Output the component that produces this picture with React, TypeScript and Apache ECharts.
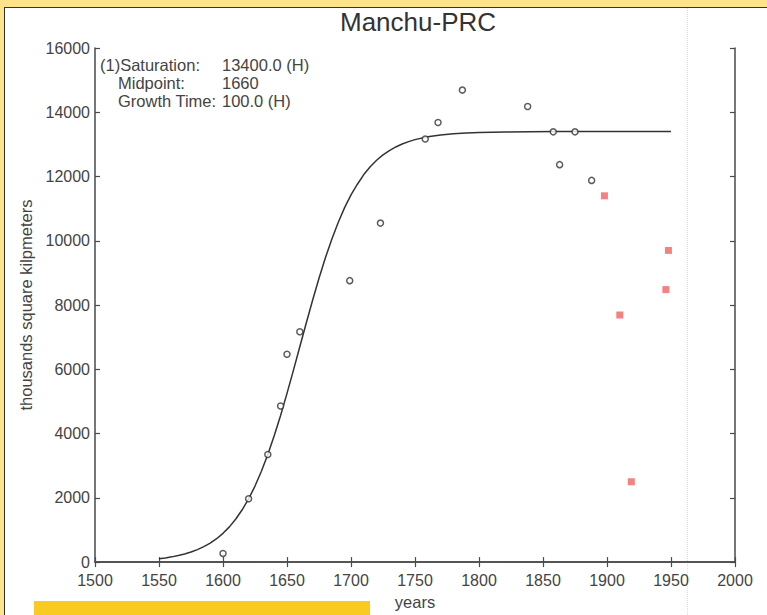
import React, { useEffect, useRef } from "react";
import * as echarts from "echarts";

const xTicks = [1500, 2000, 50];
const yTicks = [0, 16000, 2000];

const curveYears = [1550, 1555, 1560, 1565, 1570, 1575, 1580, 1585, 1590, 1595, 1600, 1605, 1610, 1615, 1620, 1625, 1630, 1635, 1640, 1645, 1650, 1655, 1660, 1665, 1670, 1675, 1680, 1685, 1690, 1695, 1700, 1705, 1710, 1715, 1720, 1725, 1730, 1735, 1740, 1745, 1750, 1760, 1770, 1780, 1790, 1800, 1820, 1840, 1860, 1880, 1900, 1920, 1950];
const curveValues = [105, 131, 163, 203, 252, 313, 388, 480, 591, 728, 895, 1097, 1340, 1629, 1970, 2367, 2829, 3349, 3930, 4565, 5251, 5966, 6700, 7434, 8149, 8835, 9470, 10051, 10571, 11033, 11429, 11760, 12060, 12303, 12505, 12672, 12809, 12920, 13012, 13087, 13148, 13237, 13294, 13332, 13356, 13372, 13388, 13395, 13398, 13399, 13400, 13400, 13400];

const circleYears = [1600, 1620, 1635, 1645, 1650, 1660, 1699, 1723, 1758, 1768, 1787, 1838, 1858, 1863, 1875, 1888];
const circleValues = [270, 1970, 3350, 4860, 6470, 7170, 8760, 10550, 13170, 13680, 14690, 14180, 13390, 12370, 13390, 11880];

const squareYears = [1898, 1910, 1919, 1946, 1948];
const squareValues = [11400, 7690, 2500, 8480, 9700];

const titleText = "Manchu-PRC";
const xName = "years";
const yName = "thousands square kilpmeters";
const noteLabels = ["(1)Saturation:", "Midpoint:", "Growth Time:"];
const noteValues = ["13400.0 (H)", "1660", "100.0 (H)"];

const FONT = "'Liberation Sans', Arial, Helvetica, sans-serif";
const AXIS = "#4a4a4a";
const TXT = "#444";

export default function App() {
  const ref = useRef<HTMLDivElement>(null);

  useEffect(() => {
    document.body.style.margin = "0";
    if (!ref.current) return;
    const chart = echarts.init(ref.current, undefined, { renderer: "svg" });

    const axisCommon = {
      type: "value" as const,
      axisLine: { show: true, lineStyle: { color: AXIS, width: 1.5 } },
      axisTick: { show: true, inside: true, length: 5, lineStyle: { color: AXIS, width: 1.2 } },
      splitLine: { show: false },
    };

    const noteGraphics: any[] = [];
    const noteX = [100, 118, 118];
    noteLabels.forEach((t, i) => {
      noteGraphics.push({
        type: "text",
        left: noteX[i],
        top: 56 + i * 18,
        style: { text: t, font: `16.5px ${FONT}`, fill: TXT },
      });
      noteGraphics.push({
        type: "text",
        left: 222,
        top: 56 + i * 18,
        style: { text: noteValues[i], font: `16.5px ${FONT}`, fill: TXT },
      });
    });

    const plain = (v: number) => String(v);

    chart.setOption({
      animation: false,
      backgroundColor: "transparent",
      textStyle: { fontFamily: FONT },
      title: {
        text: titleText,
        left: 413,
        textAlign: "center",
        top: 4,
        textStyle: { fontSize: 26, fontWeight: "normal", color: "#333", fontFamily: FONT },
      },
      grid: { left: 95, top: 48, right: 32, bottom: 47 },
      xAxis: [
        {
          ...axisCommon,
          min: xTicks[0],
          max: xTicks[1],
          interval: xTicks[2],
          position: "bottom",
          axisLabel: { color: TXT, fontSize: 16, margin: 10, fontFamily: FONT, formatter: plain },
          name: xName,
          nameLocation: "middle",
          nameGap: 30,
          nameTextStyle: { color: TXT, fontSize: 16.5, fontFamily: FONT },
        },
        {
          ...axisCommon,
          min: xTicks[0],
          max: xTicks[1],
          interval: xTicks[2],
          position: "top",
          axisLabel: { show: false },
        },
      ],
      yAxis: [
        {
          ...axisCommon,
          min: yTicks[0],
          max: yTicks[1],
          interval: yTicks[2],
          position: "left",
          axisLabel: { color: TXT, fontSize: 16, margin: 5, fontFamily: FONT, formatter: plain },
          name: yName,
          nameLocation: "middle",
          nameGap: 54,
          nameTextStyle: { color: TXT, fontSize: 16.5, fontFamily: FONT },
        },
        {
          ...axisCommon,
          min: yTicks[0],
          max: yTicks[1],
          interval: yTicks[2],
          position: "right",
          axisLabel: { show: false },
        },
      ],
      graphic: noteGraphics,
      series: [
        {
          type: "line",
          data: curveYears.map((y, i) => [y, curveValues[i]]),
          showSymbol: false,
          smooth: false,
          lineStyle: { color: "#333", width: 1.5 },
          z: 2,
        },
        {
          type: "scatter",
          data: circleYears.map((y, i) => [y, circleValues[i]]),
          symbol: "circle",
          symbolSize: 6,
          itemStyle: { color: "#fff", borderColor: "#333", borderWidth: 1.5 },
          z: 3,
        },
        {
          type: "scatter",
          data: squareYears.map((y, i) => [y, squareValues[i]]),
          symbol: "rect",
          symbolSize: 7,
          itemStyle: { color: "#f36b6b", opacity: 0.85 },
          z: 3,
        },
      ],
    });

    return () => chart.dispose();
  }, []);

  return (
    <div style={{ position: "relative", width: 767, height: 615, background: "#fde48a", overflow: "hidden", fontFamily: FONT }}>
      <div
        style={{
          position: "absolute",
          left: 4,
          top: 7,
          width: 800,
          height: 700,
          background: "#fff",
          borderLeft: "1.5px solid #333",
          borderTop: "1.5px solid #333",
        }}
      />
      <div
        style={{
          position: "absolute",
          left: 687,
          top: 8,
          width: 0,
          height: 607,
          borderLeft: "1px dotted #ecd6d6",
        }}
      />
      <div
        style={{
          position: "absolute",
          left: 34,
          top: 601,
          width: 336,
          height: 14,
          background: "#f9ca22",
        }}
      />
      <div ref={ref} style={{ position: "absolute", left: 0, top: 0, width: 767, height: 615 }} />
    </div>
  );
}
